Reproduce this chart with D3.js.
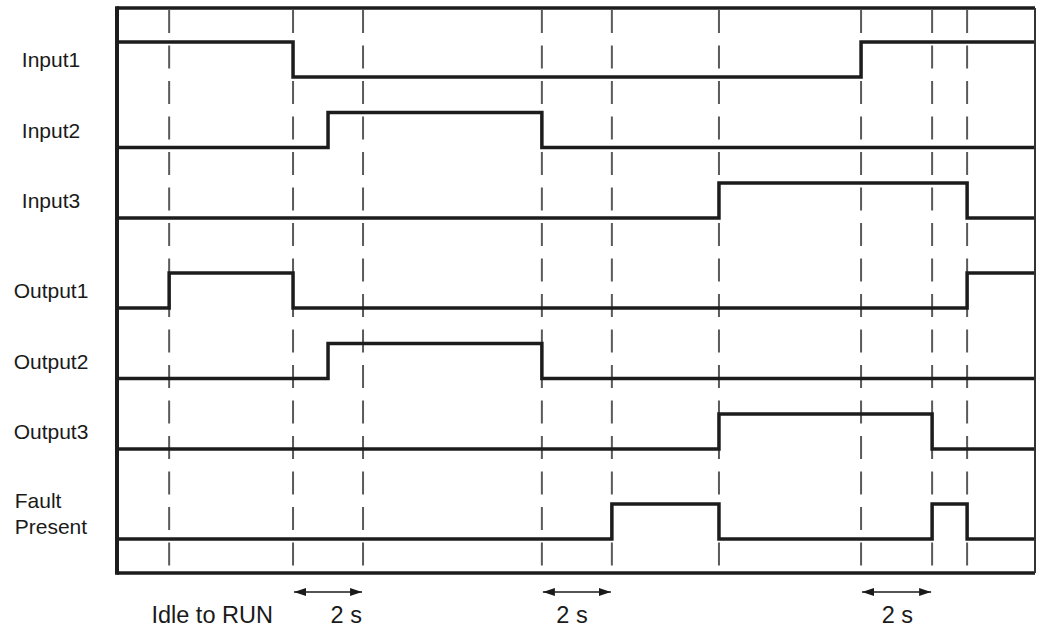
<!DOCTYPE html>
<html>
<head>
<meta charset="utf-8">
<script src="https://cdn.jsdelivr.net/npm/d3@7"></script>
<style>
  html, body { margin: 0; padding: 0; background: #fff; }
  svg { display: block; font-family: Arial, "Liberation Sans", Helvetica, sans-serif; }
</style>
</head>
<body>
<svg id="chart" width="1037" height="629"></svg>
<script>
// ---------- data (time in seconds, level 0/1) ----------
const signalNames = ["Input1", "Input2", "Input3", "Output1", "Output2", "Output3", "Fault\nPresent"];
const signalGroups = [0, 0, 0, 1, 1, 1, 2];
const timeEnd = 26.23;
// each signal: list of [time, level] transitions (step after)
const input1  = [[0, 1], [5.03, 0], [21.26, 1]];
const input2  = [[0, 0], [6.03, 1], [12.14, 0]];
const input3  = [[0, 0], [17.2, 1], [24.29, 0]];
const output1 = [[0, 0], [1.49, 1], [5.03, 0], [24.29, 1]];
const output2 = [[0, 0], [6.03, 1], [12.14, 0]];
const output3 = [[0, 0], [17.2, 1], [23.29, 0]];
const fault   = [[0, 0], [14.14, 1], [17.2, 0], [23.29, 1], [24.29, 0]];
const signals = [input1, input2, input3, output1, output2, output3, fault];

const markerTimes = [1.49, 5.03, 7.03, 12.14, 14.14, 17.2, 21.26, 23.29, 24.29];

const spanStarts = [5.03, 12.14, 21.26];
const spanEnds   = [7.03, 14.14, 23.29];
const spanLabelAt = [6.55, 13.0, 22.3];
const spanLabels = ["2 s", "2 s", "2 s"];
const phaseLabels = ["Idle to RUN"];
const phaseLabelAt = [2.72];

(function () {
// ---------- layout ----------
const svg = d3.select("#chart");
const fLeft = 117, fRight = 1035, fTop = 8, fBottom = 573;
const x = d3.scaleLinear().domain([0, timeEnd]).range([fLeft, fRight]);
const rowStep = 70.5, groupGap = 19.5, amp = 35, firstLow = 77;
const yLow = i => firstLow + rowStep * i + groupGap * signalGroups[i];
const ink = "#1c1c1c";

// dashed markers
svg.append("g").selectAll("line").data(markerTimes).join("line")
  .attr("x1", d => x(d)).attr("x2", d => x(d))
  .attr("y1", 10).attr("y2", fBottom)
  .attr("stroke", "#5a5a5a").attr("stroke-width", 2)
  .attr("stroke-dasharray", "23,12.5");

// signals
signals.forEach((sig, i) => {
  const pts = sig.concat([[timeEnd, sig[sig.length - 1][1]]]);
  const yS = d3.scaleLinear().domain([0, 1]).range([yLow(i), yLow(i) - amp]);
  const line = d3.line().x(d => x(d[0])).y(d => yS(d[1])).curve(d3.curveStepAfter);
  svg.append("path").attr("d", line(pts))
    .attr("fill", "none").attr("stroke", ink).attr("stroke-width", 3.5)
    .attr("stroke-linejoin", "miter");
});

// frame
svg.append("line").attr("x1", fLeft).attr("x2", fRight).attr("y1", fTop).attr("y2", fTop)
  .attr("stroke", ink).attr("stroke-width", 3.5);
svg.append("line").attr("x1", fLeft).attr("x2", fRight).attr("y1", fBottom).attr("y2", fBottom)
  .attr("stroke", ink).attr("stroke-width", 3.5);
svg.append("line").attr("x1", fLeft).attr("x2", fLeft).attr("y1", fTop - 1.75).attr("y2", fBottom + 1.75)
  .attr("stroke", ink).attr("stroke-width", 4);
svg.append("line").attr("x1", fRight).attr("x2", fRight).attr("y1", fTop).attr("y2", fBottom)
  .attr("stroke", "#333").attr("stroke-width", 2);

// labels
const labelCenterX = 51;
signalNames.forEach((name, i) => {
  const lines = name.split("\n");
  const cy = yLow(i) - amp / 2;
  const g = svg.append("g");
  if (lines.length === 1) {
    g.append("text").attr("x", labelCenterX).attr("y", cy + 7.5)
      .attr("text-anchor", "middle").attr("font-size", 21).attr("fill", "#1a1a1a").text(name);
  } else {
    const t = g.append("text").attr("font-size", 21).attr("fill", "#1a1a1a");
    lines.forEach((ln, k) => {
      t.append("tspan").attr("x", 0).attr("y", cy - 14 + 26 * k).text(ln);
    });
    const w = t.node().getBBox().width;
    t.attr("transform", `translate(${labelCenterX - w / 2},0)`);
  }
});

// arrows
const defs = svg.append("defs");
["start", "end"].forEach(k => {
  defs.append("marker").attr("id", "ah-" + k)
    .attr("viewBox", "0 0 12 8").attr("refX", k === "end" ? 12 : 0).attr("refY", 4)
    .attr("markerWidth", 12).attr("markerHeight", 8).attr("markerUnits", "userSpaceOnUse")
    .attr("orient", "auto")
    .append("path")
    .attr("d", k === "end" ? "M0,0 L12,4 L0,8 Z" : "M12,0 L0,4 L12,8 Z")
    .attr("fill", "#1a1a1a");
});
const arrowY = 592;
spanStarts.forEach((s, i) => {
  svg.append("line")
    .attr("x1", x(s) + 1).attr("x2", x(spanEnds[i]) - 1)
    .attr("y1", arrowY).attr("y2", arrowY)
    .attr("stroke", "#1a1a1a").attr("stroke-width", 1.5)
    .attr("marker-start", "url(#ah-start)").attr("marker-end", "url(#ah-end)");
  svg.append("text").attr("x", x(spanLabelAt[i])).attr("y", 623)
    .attr("text-anchor", "middle").attr("font-size", 23.5).attr("fill", "#1a1a1a")
    .text(spanLabels[i]);
});
phaseLabels.forEach((p, i) => {
  svg.append("text").attr("x", x(phaseLabelAt[i])).attr("y", 623)
    .attr("text-anchor", "middle").attr("font-size", 23.5).attr("fill", "#1a1a1a")
    .text(p);
});
})();
</script>
</body>
</html>
